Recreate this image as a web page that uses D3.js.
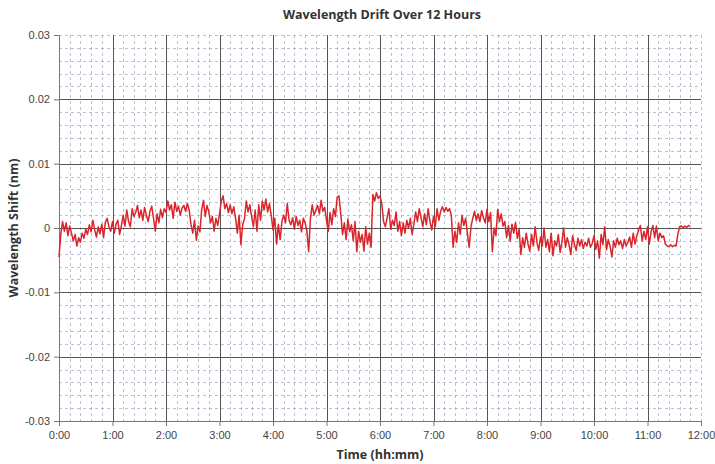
<!DOCTYPE html>
<html>
<head>
<meta charset="utf-8">
<script src="https://cdn.jsdelivr.net/npm/d3@7"></script>
<style>
  body { margin: 0; background: #fff; }
  .tick text { font-family: "Liberation Sans", Arial, sans-serif; font-size: 11px; fill: #444; }
  .title, .axis-label { font-family: "Open Sans", sans-serif; font-weight: 700; fill: #333; }
</style>
</head>
<body>
<svg id="chart" width="715" height="464"></svg>
<script>
// wavelength shift in pm (1 pm = 0.001 nm), one sample every 2 minutes
const sampleStepMin = 2;
const shiftPm = [
  -4.5, -1.0, 1.0, -0.5, 0.8, -1.2, 0.3, -0.8, -2.0, -1.0,
  -2.8, -1.5, -2.2, -0.8, -1.6, -0.2, -1.0, 0.5, -0.6, 1.2,
  -0.3, -1.4, 0.2, -0.9, 0.6, -1.5, 0.9, 1.5, 0.2, -0.5,
  1.0, -0.8, 0.6, 1.2, -1.0, 0.4, 2.0, 0.3, 2.8, 1.0,
  0.2, 3.0, 1.8, 2.4, 3.5, 1.6, 2.8, 1.2, 3.2, 2.0,
  1.0, 2.6, 3.4, 1.5, -0.5, 2.2, 0.8, 2.9, 1.6, 3.0,
  2.4, 4.2, 2.8, 3.6, 1.5, 4.0, 2.6, 3.4, 2.0, 3.1,
  3.5, 2.6, 3.8, 2.8, 0.6, -0.8, 1.2, -1.9, 0.3, -0.6,
  2.8, 4.3, 1.8, 3.5, 2.5, 0.8, 1.8, -0.5, 1.5, 0.4,
  2.2, 4.2, 5.0, 3.0, 3.8, 2.4, 3.6, 2.2, 3.3, 1.5,
  -0.8, 2.0, -2.6, 0.5, 1.4, 4.2, 2.5, 3.6, 1.8, 0.2,
  2.8, -0.5, 3.6, 1.2, 4.2, 2.8, 4.5, 2.5, 3.8, 2.0,
  -0.3, 1.5, -2.5, 0.6, -1.8, 1.0, 2.0, 0.8, 3.8, 1.2,
  0.5, 1.6, -0.2, 1.8, 0.4, 1.2, -0.6, 1.5, 0.8, -0.4,
  -3.7, 1.5, 3.6, 2.0, 2.8, 3.5, 2.2, 4.3, 2.6, 3.2,
  1.2, -0.5, 2.4, 0.5, 3.0, 1.8, 4.8, 5.0, 2.2, -1.0,
  0.8, -1.8, 1.4, -0.6, 0.5, -2.0, 1.0, -3.7, -0.5, -2.2,
  -1.0, -3.6, 0.2, -2.5, -0.8, -3.0, 5.2, 4.2, 5.5, 4.6,
  5.0, 3.8, 1.0, 0.2, 1.6, 3.0, -0.2, 1.2, 0.4, 2.5,
  -0.5, 1.0, -1.2, 0.8, -0.8, 1.2, 0.0, 1.5, -1.0, 0.6,
  2.5, 1.0, 3.0, 1.6, 0.2, 2.2, 0.5, 3.0, 1.0, -0.3,
  1.8, 0.2, 3.0, 1.2, 2.6, 3.3, 2.5, 3.2, 2.6, 3.0,
  2.0, -3.0, -0.5, -2.2, 0.8, -1.0, 2.0, 0.4, 1.5, -0.8,
  -3.0, 0.2, 1.5, 2.6, 1.2, 2.2, 1.0, 2.7, 1.6, 0.8,
  2.9, 1.0, 2.4, -3.7, 0.0, -1.2, 2.9, 1.0, 2.2, 0.3,
  1.0, -1.5, 0.4, -2.0, 0.6, -0.8, 0.9, -1.6, -0.2, -4.1,
  -1.5, -3.0, -0.8, -2.5, -3.6, -1.0, -2.8, 0.2, -2.2, -3.5,
  -1.4, -2.8, 0.0, -3.0, -1.8, -3.7, -0.8, -4.3, -2.0, -2.8,
  -1.0, -3.8, -2.2, 0.0, -3.0, -1.5, -2.6, -4.1, -1.2, -2.5,
  -3.5, -1.6, -2.8, -1.8, -3.2, -2.2, -2.8, -1.6, -3.0, -2.4,
  -1.2, -3.3, -2.0, -4.7, -1.0, -2.6, 0.2, -3.4, -1.8, -2.8,
  -4.5, -2.0, -3.0, -1.6, -2.6, -2.0, -3.2, -1.8, -2.8, -2.2,
  -1.4, -3.0, -0.8, -2.5, -1.2, -0.3, 0.4, -2.0, -0.5, -1.8,
  0.2, -2.5, -0.6, 0.4, -1.5, 0.3, -2.0, -0.8, -1.5, -1.2,
  -2.5, -2.8, -2.9, -2.6, -2.9, -2.7, -2.8, -1.0, 0.2, 0.3,
  0.0, 0.3, 0.1, 0.4, 0.2
];

const yTicks = [-30, -20, -10, 0, 10, 20, 30];          // pm
const yTickLabels = ['-0.03', '-0.02', '-0.01', '0', '0.01', '0.02', '0.03'];
const hourTicks = [0, 1, 2, 3, 4, 5, 6, 7, 8, 9, 10, 11, 12];
const hourLabels = ['0:00', '1:00', '2:00', '3:00', '4:00', '5:00', '6:00',
                    '7:00', '8:00', '9:00', '10:00', '11:00', '12:00'];

const margin = {top: 35, right: 14, bottom: 43, left: 59};
const W = 715, H = 464;
const width = W - margin.left - margin.right;
const height = H - margin.top - margin.bottom;

const svg = d3.select('#chart');
const g = svg.append('g').attr('transform', `translate(${margin.left},${margin.top})`);

const x = d3.scaleLinear().domain([0, 12 * 60]).range([0, width]);
const y = d3.scaleLinear().domain([-30, 30]).range([height, 0]);

// minor grid (every 12 min, every 0.002 nm)
const minorX = d3.range(0, 12 * 60 + 1, 12);
const minorY = d3.range(-30, 31, 2);
g.append('g').selectAll('line').data(minorX).join('line')
  .attr('x1', d => Math.round(x(d)) + 0.5).attr('x2', d => Math.round(x(d)) + 0.5)
  .attr('y1', 0).attr('y2', height)
  .attr('stroke', '#8d96c2').attr('stroke-width', 1).attr('stroke-dasharray', '3,3').attr('opacity', 0.6);
g.append('g').selectAll('line').data(minorY).join('line')
  .attr('y1', d => Math.round(y(d)) + 0.5).attr('y2', d => Math.round(y(d)) + 0.5)
  .attr('x1', 0).attr('x2', width)
  .attr('stroke', '#8d96c2').attr('stroke-width', 1).attr('stroke-dasharray', '3,3').attr('opacity', 0.6);

// major grid (hours, 0.01 nm), interior only
g.append('g').selectAll('line').data(hourTicks.slice(1, -1)).join('line')
  .attr('x1', d => Math.round(x(d * 60)) + 0.5).attr('x2', d => Math.round(x(d * 60)) + 0.5)
  .attr('y1', 0).attr('y2', height)
  .attr('stroke', '#555').attr('stroke-width', 1);
g.append('g').selectAll('line').data(yTicks.slice(1, -1)).join('line')
  .attr('y1', d => Math.round(y(d)) + 0.5).attr('y2', d => Math.round(y(d)) + 0.5)
  .attr('x1', 0).attr('x2', width)
  .attr('stroke', '#555').attr('stroke-width', 1);

// axes
const yAxis = g.append('g').call(
  d3.axisLeft(y).tickValues(yTicks).tickSize(5).tickPadding(4)
    .tickFormat((d, i) => yTickLabels[i])
);
const xAxis = g.append('g').attr('transform', `translate(0,${height})`).call(
  d3.axisBottom(x).tickValues(hourTicks.map(h => h * 60)).tickSize(5).tickPadding(5)
    .tickFormat((d, i) => hourLabels[i])
);
[yAxis, xAxis].forEach(a => {
  a.select('.domain').attr('stroke', '#777');
  a.selectAll('.tick line').attr('stroke', '#777');
});

// drift trace
const line = d3.line()
  .x((d, i) => x(i * sampleStepMin))
  .y(d => y(d));
g.append('path').datum(shiftPm)
  .attr('d', line)
  .attr('fill', 'none')
  .attr('stroke', '#d9252b')
  .attr('stroke-width', 1.5)
  .attr('stroke-linejoin', 'round');

// titles
svg.append('text').attr('class', 'title')
  .attr('text-anchor', 'middle')
  .attr('x', margin.left + width / 2 + 2).attr('y', 19)
  .style('font-size', '12.5px')
  .text('Wavelength Drift Over 12 Hours');
svg.append('text').attr('class', 'axis-label')
  .attr('text-anchor', 'middle')
  .attr('x', margin.left + width / 2).attr('y', 459)
  .style('font-size', '12.5px')
  .text('Time (hh:mm)');
svg.append('text').attr('class', 'axis-label')
  .attr('text-anchor', 'middle')
  .attr('transform', `translate(18,${margin.top + height / 2})rotate(-90)`)
  .style('font-size', '12.5px')
  .text('Wavelength Shift (nm)');
</script>
</body>
</html>
